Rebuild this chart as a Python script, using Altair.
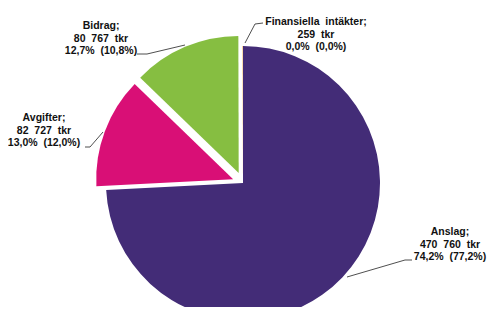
import altair as alt
import pandas as pd

# ---- data ----
categories = ["Anslag", "Avgifter", "Bidrag", "Finansiella intäkter"]
values_tkr = [470760, 82727, 80767, 259]
share_prev = [77.2, 12.0, 10.8, 0.0]
colors = ["#432c77", "#d90f76", "#86be41", "#f39200"]

# ---- layout (style / placement only) ----
CX, CY, R = 235, 175, 137
explode = [0, 10.5, 11, 0]
label_pos = {  # centre x, first-line middle y
    "Anslag": (442, 224),
    "Avgifter": (36, 110),
    "Bidrag": (93, 18),
    "Finansiella intäkter": (308, 14),
}
leaders = {
    "Anslag": [(339, 269), (397, 252), (404, 252)],
    "Avgifter": [(95, 124), (82, 139), (77, 139)],
    "Bidrag": [(177, 37), (139, 46), (129, 46)],
    "Finansiella intäkter": [(237, 35), (247, 16), (255, 15)],
}

total = sum(values_tkr)
SP = "\u00a0\u00a0"


def fmt_int(v):
    return f"{v:,}".replace(",", SP)


def fmt_pct(p):
    return f"{p:.1f}".replace(".", ",") + "%"


slices = pd.DataFrame({
    "cat": categories,
    "value": values_tkr,
    "order": list(range(len(categories))),
    "explode": explode,
})

labels = pd.DataFrame({
    "cat": categories,
    "text": [
        f"{c.replace(' ', SP)};\n{fmt_int(v)}{SP}tkr\n{fmt_pct(100 * v / total)}{SP}({fmt_pct(p)})"
        for c, v, p in zip(categories, values_tkr, share_prev)
    ],
    "lx": [label_pos[c][0] for c in categories],
    "ly": [label_pos[c][1] for c in categories],
})

lead_rows = []
for c in categories:
    for i, (x, y) in enumerate(leaders[c]):
        lead_rows.append({"cat": c, "i": i, "x": x, "y": y})
lead_df = pd.DataFrame(lead_rows)

pie = (
    alt.Chart(slices)
    .transform_window(cum="sum(value)", sort=[{"field": "order"}], frame=[None, 0])
    .transform_joinaggregate(total="sum(value)")
    .transform_calculate(
        a0="2*PI*(datum.cum-datum.value)/datum.total",
        a1="2*PI*datum.cum/datum.total",
    )
    .transform_calculate(mid="(datum.a0+datum.a1)/2")
    .transform_calculate(
        px=f"{CX}+datum.explode*sin(datum.mid)",
        py=f"{CY}-datum.explode*cos(datum.mid)",
    )
    .mark_arc(radius=R)
    .encode(
        theta=alt.Theta("a0:Q", scale=None, stack=None),
        theta2="a1:Q",
        x=alt.X("px:Q", scale=None),
        y=alt.Y("py:Q", scale=None),
        color=alt.Color("cat:N", scale=alt.Scale(domain=categories, range=colors), legend=None),
    )
)

lines = (
    alt.Chart(lead_df)
    .mark_line(color="#222222", strokeWidth=0.8)
    .encode(
        x=alt.X("x:Q", scale=None),
        y=alt.Y("y:Q", scale=None),
        detail="cat:N",
        order="i:Q",
    )
)

text = (
    alt.Chart(labels)
    .mark_text(
        font="Liberation Sans",
        fontSize=10.5,
        fontWeight="bold",
        color="#111111",
        lineBreak="\n",
        lineHeight=12.5,
        align="center",
        baseline="middle",
    )
    .encode(
        x=alt.X("lx:Q", scale=None),
        y=alt.Y("ly:Q", scale=None),
        text="text:N",
    )
)

chart = (
    alt.layer(pie, lines, text)
    .properties(width=480, height=299, padding=0, autosize=alt.AutoSizeParams(type="none"))
    .configure_view(stroke=None)
)

chart.save("out.html", embed_options={"renderer": "svg", "actions": False})
